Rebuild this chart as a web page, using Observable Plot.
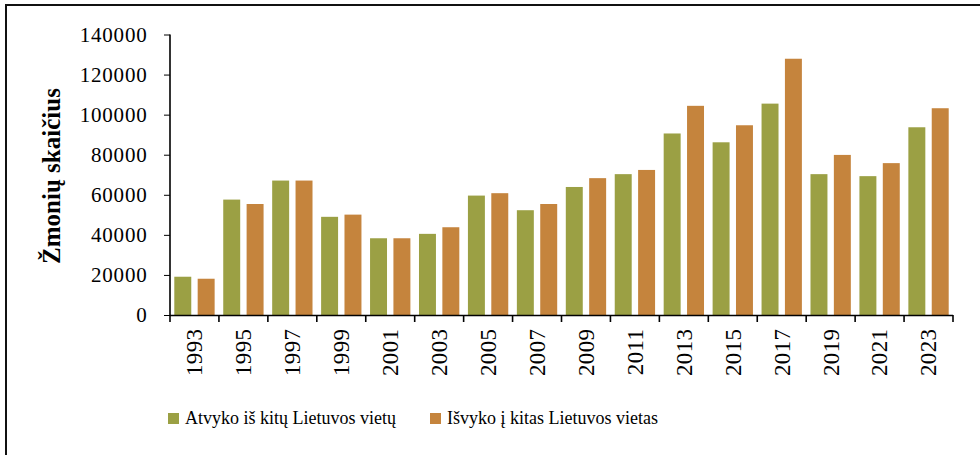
<!DOCTYPE html>
<html>
<head>
<meta charset="utf-8">
<script src="https://cdn.jsdelivr.net/npm/d3@7"></script>
<script src="https://cdn.jsdelivr.net/npm/@observablehq/plot@0.6"></script>
<style>
  html, body { margin: 0; padding: 0; background: #fff; width: 980px; height: 455px; overflow: hidden; }
  #wrap { position: relative; width: 980px; height: 455px; font-family: "Liberation Serif", serif; }
  #border { position: absolute; left: 5px; top: 4px; width: 1200px; height: 800px; border-left: 2px solid #111; border-top: 2px solid #111; }
  #chart { position: absolute; left: 0; top: 0; }
  g[aria-label^="fx-axis"] text { font-size: 23px; letter-spacing: 0.4px; }
  g[aria-label^="y-axis tick label"] text { font-size: 21px; letter-spacing: 0.8px; }
  #ytitle { position: absolute; left: 52px; top: 176px; transform: translate(-50%, -50%) rotate(-90deg); white-space: nowrap; font-size: 25px; font-weight: bold; color: #000; }
  #legend { position: absolute; left: 168px; top: 408px; display: flex; align-items: center; font-size: 18px; color: #000; }
  .item { display: flex; align-items: center; }
  .sw { width: 11px; height: 11px; display: inline-block; margin-right: 6px; }
</style>
</head>
<body>
<div id="wrap">
  <div id="border"></div>
  <div id="chart"></div>
  <div id="ytitle"></div>
  <div id="legend"></div>
</div>
<script>
const years = ["1993","1995","1997","1999","2001","2003","2005","2007","2009","2011","2013","2015","2017","2019","2021","2023"];
const arrived = [19100, 57600, 67100, 49000, 38300, 40500, 59600, 52300, 63900, 70300, 90600, 86200, 105500, 70300, 69300, 93700];
const departed = [18100, 55400, 67100, 50100, 38300, 43800, 60800, 55400, 68300, 72400, 104400, 94700, 127900, 79900, 75800, 103200];
const seriesNames = ["Atvyko iš kitų Lietuvos vietų", "Išvyko į kitas Lietuvos vietas"];
const seriesColors = ["#9BA044", "#C5843D"];
const yTicks = [0, 20000, 40000, 60000, 80000, 100000, 120000, 140000];
const yTitle = "Žmonių skaičius";

const data = years.flatMap((yr, i) => [
  {year: yr, series: seriesNames[0], value: arrived[i]},
  {year: yr, series: seriesNames[1], value: departed[i]}
]);

const plot = Plot.plot({
  width: 980,
  height: 390,
  marginLeft: 170,
  marginRight: 27,
  marginTop: 34.5,
  marginBottom: 75,
  style: {fontFamily: "Liberation Serif, serif", fontSize: "21px", color: "#000", background: "transparent", overflow: "visible"},
  fx: {domain: years, padding: 0, round: false, label: null, tickSize: 0, tickRotate: -90, tickPadding: 13},
  x: {domain: seriesNames, axis: null, round: false, paddingInner: 0.274, paddingOuter: 0.184},
  y: {domain: [0, 140000], ticks: yTicks, tickSize: 6, tickPadding: 17, tickFormat: d => String(d), label: null},
  color: {domain: seriesNames, range: seriesColors},
  marks: [
    Plot.barY(data, {fx: "year", x: "series", y: "value", fill: "series"}),
    Plot.ruleY([0], {stroke: "#000", strokeWidth: 1.6})
  ]
});
document.getElementById("chart").appendChild(plot);

// axis line and category boundary ticks, positioned from the plot's own scales
const fxS = plot.scale("fx");
const yS = plot.scale("y");
const y0 = yS.apply(0);
const yTop = yS.apply(140000);
const g = d3.select(plot).append("g").attr("stroke", "#000").attr("stroke-width", 1.6);
const bounds = years.map(v => fxS.apply(v));
bounds.push(fxS.apply(years[years.length - 1]) + fxS.step);
g.append("line").attr("x1", bounds[0]).attr("x2", bounds[0]).attr("y1", yTop).attr("y2", y0);
bounds.forEach(b => g.append("line").attr("x1", b).attr("x2", b).attr("y1", y0).attr("y2", y0 + 7));

d3.select("#ytitle").text(yTitle);

// legend
const legend = d3.select("#legend");
seriesNames.forEach((name, i) => {
  const it = legend.append("div").attr("class", "item").style("margin-right", i === 0 ? "34px" : "0");
  it.append("span").attr("class", "sw").style("background", seriesColors[i]);
  it.append("span").text(name);
});
</script>
</body>
</html>
